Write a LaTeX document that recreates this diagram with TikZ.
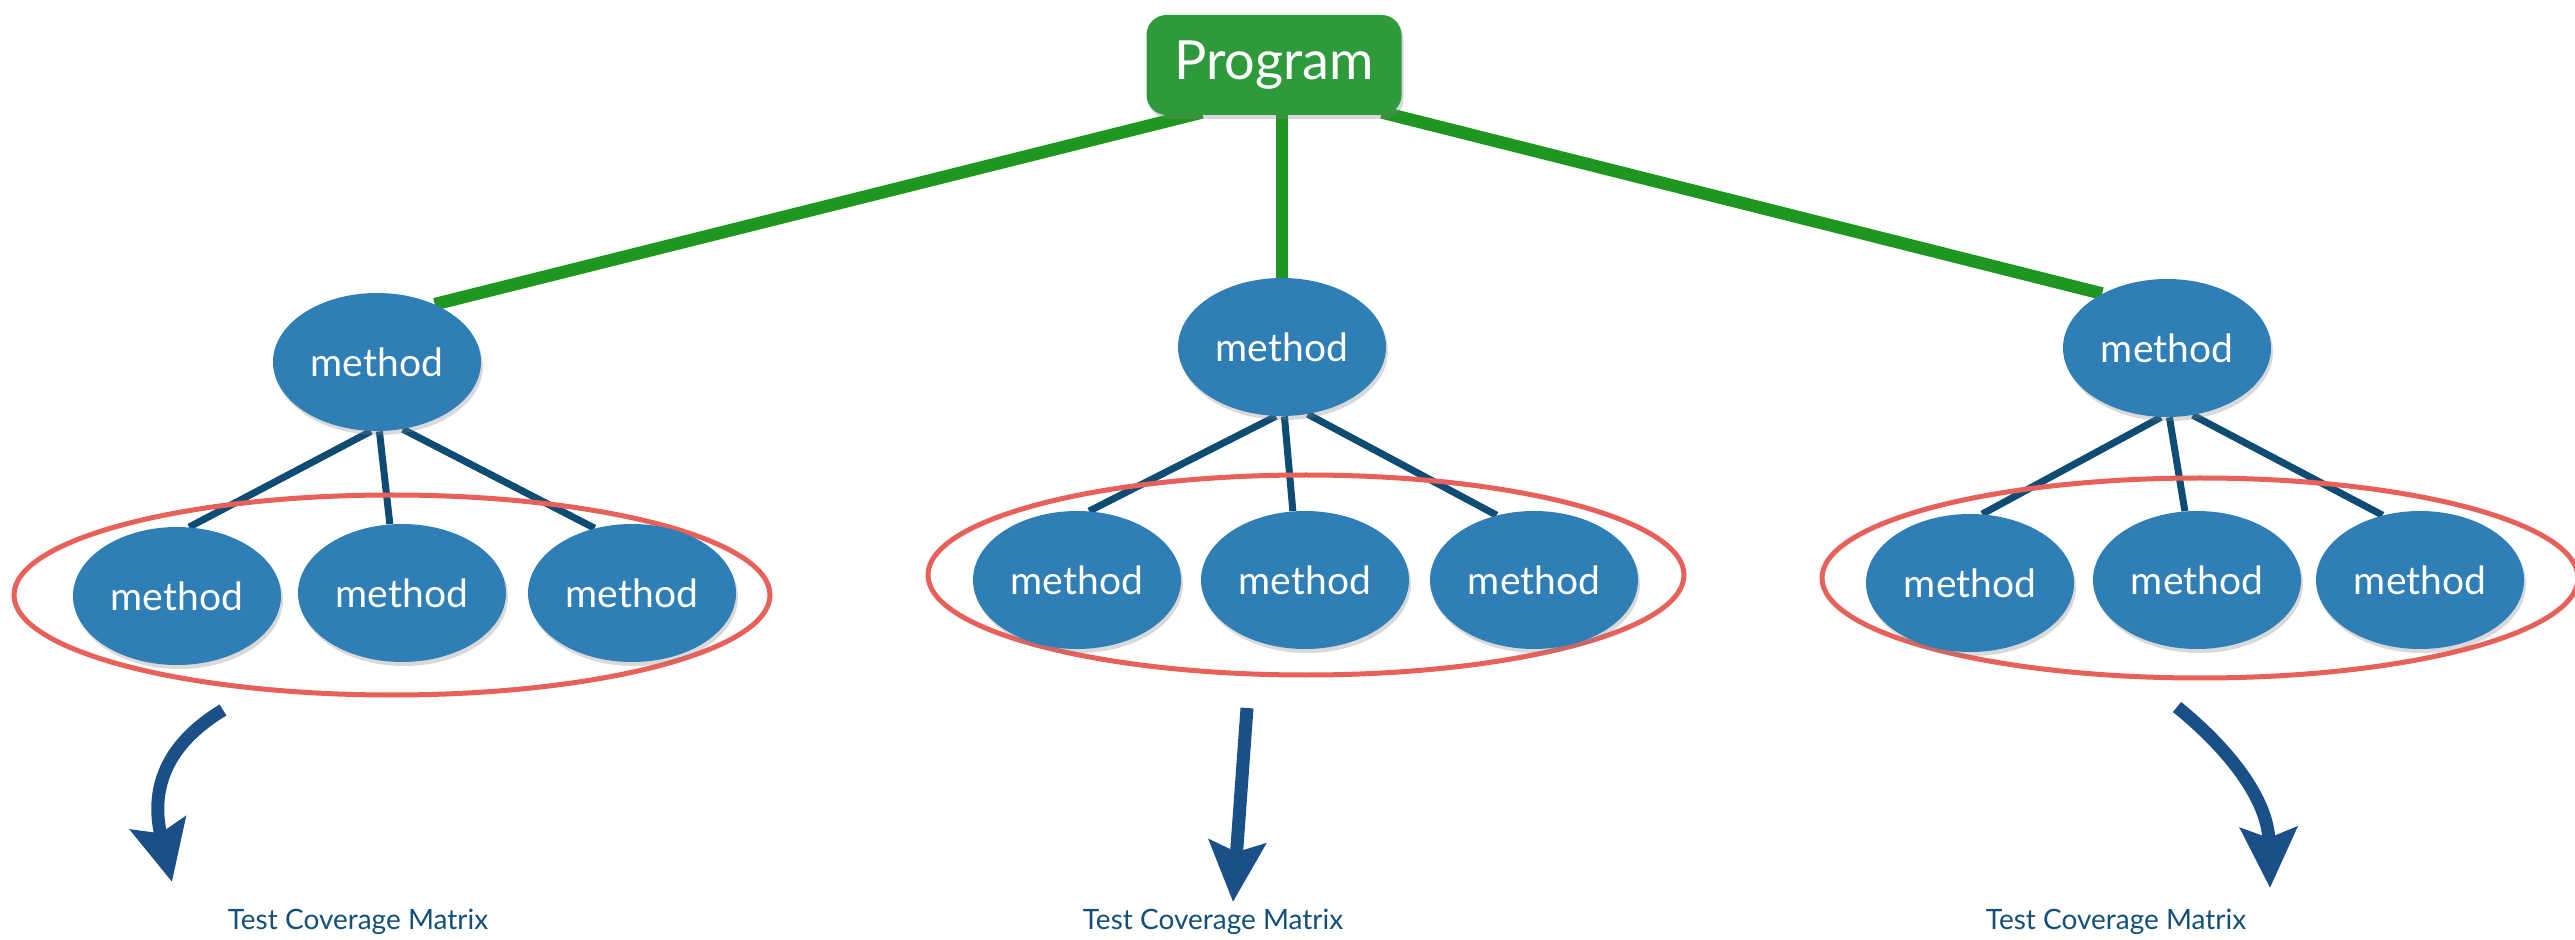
\documentclass[tikz,border=0pt]{standalone}
\usepackage{fontspec}
\setmainfont{Lato}
\usetikzlibrary{shapes.geometric,arrows.meta,backgrounds,calc,shadows}
\definecolor{mblue}{HTML}{2F7EB5}
\definecolor{lblue}{HTML}{0E4C73}
\definecolor{pgreen}{HTML}{2E9A3C}
\definecolor{lgreen}{HTML}{1F961F}
\definecolor{ringc}{HTML}{E8605A}
\definecolor{ablue}{HTML}{1A5087}
\definecolor{tblue}{HTML}{134F78}
\begin{document}
\begin{tikzpicture}[x=0.5pt,y=-0.5pt,
 meth/.style={ellipse, fill=mblue, minimum width=104pt, minimum height=69pt, inner sep=0pt, text=white,
   font=\fontsize{19.5}{20}\selectfont, drop shadow={opacity=0.3, shadow xshift=1pt, shadow yshift=-2pt}},
 progst/.style={rounded corners=10pt, fill=pgreen, minimum width=127.5pt, minimum height=50pt, inner sep=0pt, text=white,
   font=\fontsize{27}{28}\selectfont, drop shadow={opacity=0.3, shadow xshift=1pt, shadow yshift=-2pt}},
 glink/.style={draw=lgreen, line width=6.3pt},
 blink/.style={draw=lblue, line width=3.5pt},
 ringst/.style={ellipse, draw=ringc, line width=2.5pt, minimum width=378pt, minimum height=100pt, inner sep=0pt},
 bigarrow/.style={draw=ablue, line width=6.5pt, -{Stealth[length=30pt,width=28pt,inset=5pt]}},
 lbl/.style={text=tblue, font=\fontsize{14}{16}\selectfont}
]
\useasboundingbox (0,0) rectangle (2575,940);

% program
\node[progst] (prog) at (1274,65) {\raisebox{-2pt}{Program}};

% top methods
\node[meth] (m1) at (377,362) {method};
\node[meth] (m2) at (1282,347) {method};
\node[meth] (m3) at (2167,348) {method};

% bottom methods
\node[meth] (a1) at (177,596) {method};
\node[meth] (a2) at (402,593) {method};
\node[meth] (a3) at (632,593) {method};

\node[meth] (b1) at (1077,580) {method};
\node[meth] (b2) at (1305,580) {method};
\node[meth] (b3) at (1534,580) {method};

\node[meth] (c1) at (1970,583) {method};
\node[meth] (c2) at (2197,580) {method};
\node[meth] (c3) at (2420,580) {method};

\begin{scope}[on background layer]
 \draw[glink] ($(prog.south)+(-72,-3)$) -- (m1.45);
 \draw[glink] (prog.south -| m2) -- (m2.north);
 \draw[glink] ($(prog.south east)+(-20,-3)$) -- (m3.140);

 \draw[blink] (m1.265) -- (a1.80);
 \draw[blink] (m1.272) -- (a2.100);
 \draw[blink] (m1.291) -- (a3.120);
 \draw[blink] (m2.265) -- (b1.80);
 \draw[blink] (m2.272) -- (b2.100);
 \draw[blink] (m2.291) -- (b3.120);
 \draw[blink] (m3.265) -- (c1.80);
 \draw[blink] (m3.272) -- (c2.100);
 \draw[blink] (m3.291) -- (c3.120);

 \node[ringst] (r1) at (392,595) {};
 \node[ringst] (r2) at (1306,575) {};
 \node[ringst] (r3) at (2200,578) {};
\end{scope}

% arrows
\coordinate (t1) at (223,710);
\coordinate (e1) at (172,882);
\coordinate (t2) at (1247,708);
\coordinate (e2) at (1233,902);
\coordinate (t3) at (2177,707);
\coordinate (e3) at (2270,888);
\draw[bigarrow] (t1) .. controls (165,745) and (150,790) .. (e1);
\draw[bigarrow] (t2) -- (e2);
\draw[bigarrow] (t3) .. controls (2230,750) and (2268,800) .. (e3);

% labels
\node[lbl] (l1) at (358,922) {Test Coverage Matrix};
\node[lbl] (l2) at (1213,922) {Test Coverage Matrix};
\node[lbl] (l3) at (2116,922) {Test Coverage Matrix};
\end{tikzpicture}
\end{document}
